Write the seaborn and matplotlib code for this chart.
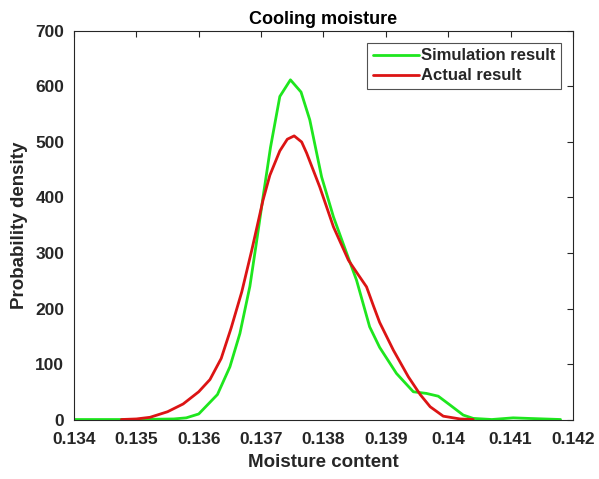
import numpy as np
import pandas as pd
import seaborn as sns
import matplotlib
matplotlib.use('Agg')
import matplotlib.pyplot as plt
from matplotlib.ticker import FuncFormatter

# Simulation result (green)
sim_x = [0.1340, 0.1350, 0.1356, 0.1358, 0.1360, 0.1363, 0.1365, 0.13666, 0.13682,
         0.13692, 0.13703, 0.13715, 0.1373, 0.13747, 0.13764, 0.13778, 0.13797, 0.13816,
         0.13837, 0.13853, 0.13874, 0.1389, 0.13917, 0.13944, 0.13965, 0.13984, 0.14003,
         0.14024, 0.1404, 0.1407, 0.14104, 0.14128, 0.1418]
sim_y = [0, 0, 1, 3, 10, 45, 95, 155, 240,
         315, 400, 490, 582, 612, 590, 540, 437, 365,
         300, 251, 167, 130, 83, 50, 47, 42, 26,
         8, 2, 0, 3, 2, 0]

# Actual result (red)
act_x = [0.13476, 0.1350, 0.13522, 0.1355, 0.13575, 0.1360, 0.13618, 0.13636, 0.13652,
         0.13669, 0.13685, 0.13703, 0.13714, 0.1373, 0.13742, 0.13753, 0.13765, 0.13773,
         0.13794, 0.13816, 0.1384, 0.13855, 0.13869, 0.1388, 0.1389, 0.13912, 0.13936,
         0.13955, 0.13971, 0.13992, 0.14019, 0.1404]
act_y = [0, 1, 4, 14, 28, 50, 72, 110, 165,
         230, 305, 395, 440, 484, 505, 511, 500, 480,
         419, 347, 287, 262, 239, 205, 175, 125, 77,
         45, 23, 6, 1, 0]

x_ticks = [0.134, 0.135, 0.136, 0.137, 0.138, 0.139, 0.140, 0.141, 0.142]
y_ticks = [0, 100, 200, 300, 400, 500, 600, 700]

sns.set_theme(style="white")
plt.rcParams['font.family'] = ['Liberation Sans', 'DejaVu Sans']
plt.rcParams['font.weight'] = 'bold'

df = pd.concat([
    pd.DataFrame({'x': sim_x, 'y': sim_y, 'series': 'Simulation result'}),
    pd.DataFrame({'x': act_x, 'y': act_y, 'series': 'Actual result'}),
])

fig = plt.figure(figsize=(5.99, 4.79), dpi=100)
ax = fig.add_axes([0.1235, 0.1242, 0.8331, 0.8111])

sns.lineplot(data=df, x='x', y='y', hue='series', sort=False, estimator=None,
             palette={'Simulation result': '#1ee61e', 'Actual result': '#dc1414'},
             linewidth=2, ax=ax)

ax.set_xlim(0.134, 0.142)
ax.set_ylim(0, 700)
ax.set_xticks(x_ticks)
ax.set_yticks(y_ticks)
ax.xaxis.set_major_formatter(FuncFormatter(lambda v, p: f'{v:g}'))
ax.tick_params(direction='in', length=4, width=0.8, top=True, right=True,
               labelsize=12.5, colors='#262626')
ax.tick_params(axis='x', pad=9)
ax.tick_params(axis='y', pad=7)
for lab in ax.get_xticklabels() + ax.get_yticklabels():
    lab.set_fontweight('bold')
for sp in ax.spines.values():
    sp.set_color('#262626')
    sp.set_linewidth(0.8)

ax.set_xlabel('Moisture content', fontsize=13.5, fontweight='bold', color='#262626', labelpad=5)
ax.set_ylabel('Probability density', fontsize=13.5, fontweight='bold', color='#262626', labelpad=5)
ax.set_title('Cooling moisture', fontsize=13, fontweight='bold', color='black', pad=5)

leg = ax.legend(loc='upper right', fontsize=12, handlelength=2.8, handletextpad=0.1,
                borderpad=0.35, labelspacing=0.3, frameon=True, fancybox=False,
                borderaxespad=0.7)
leg.get_frame().set_edgecolor('#262626')
leg.get_frame().set_linewidth(0.8)
for t in leg.get_texts():
    t.set_fontweight('bold')

plt.savefig('out.png', dpi=100)
plt.close()
